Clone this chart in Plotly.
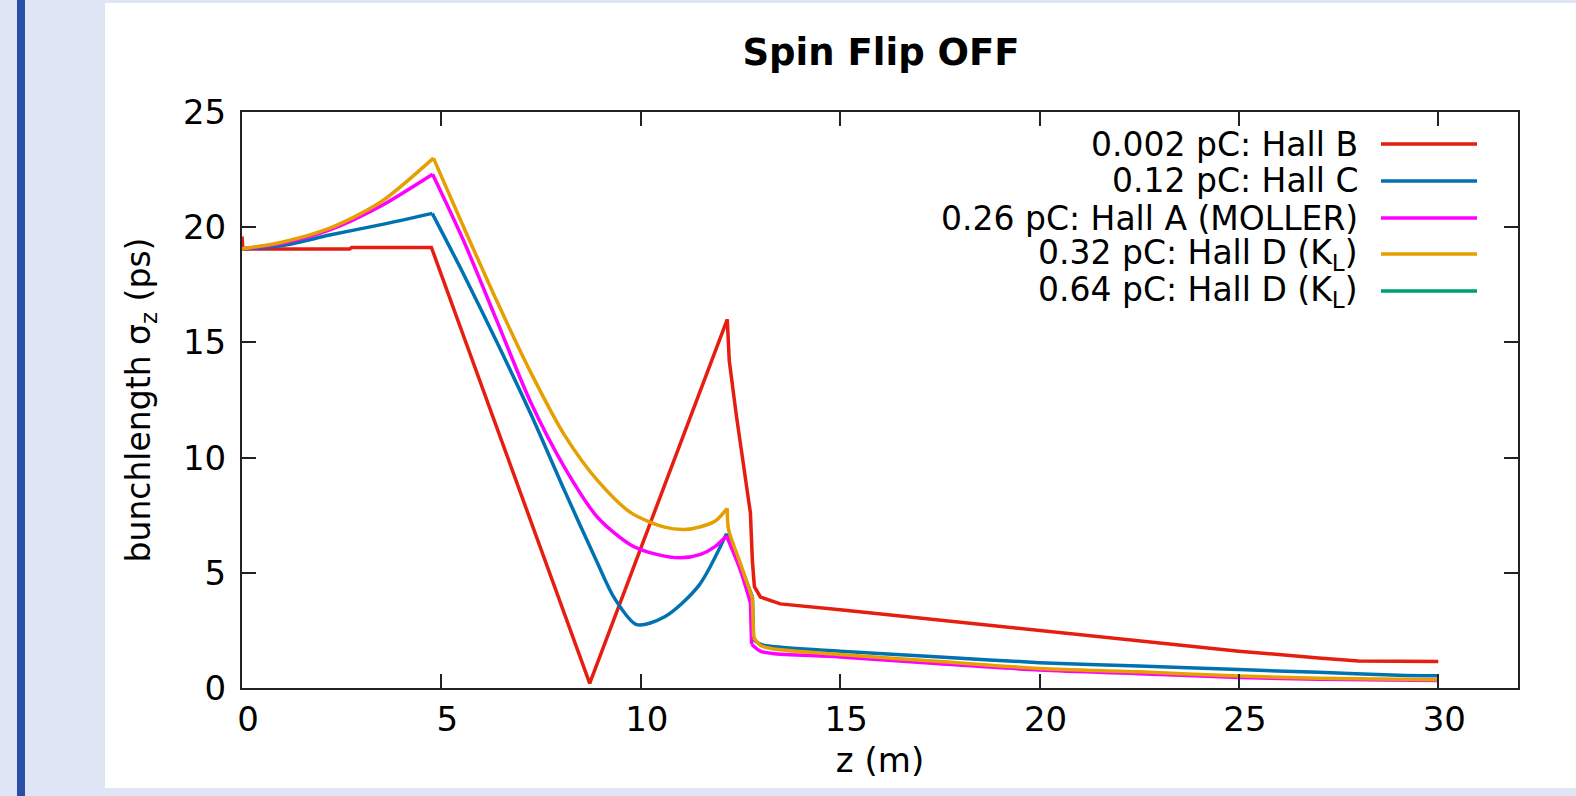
import plotly.graph_objects as go

# ---------------- data ----------------
series_names = [
    "0.002 pC: Hall B",
    "0.12 pC: Hall C",
    "0.26 pC: Hall A (MOLLER)",
    "0.32 pC: Hall D (K<sub>L</sub>)",
    "0.64 pC: Hall D (K<sub>L</sub>)",
]
series_colors = ["#e51e10", "#0072b2", "#ff00ff", "#e69f00", "#009e73"]

z_hallB = [0.0, 0.02, 2.7, 2.75, 4.75, 8.72, 12.17, 12.22, 12.4, 12.6, 12.75, 12.8, 12.85,
           13.0, 13.3, 13.5, 15.0, 17.5, 20.0, 22.5, 25.0, 27.0, 28.0, 30.0]
s_hallB = [19.6, 19.05, 19.05, 19.12, 19.12, 0.2, 16.0, 14.2, 11.8, 9.3, 7.6, 5.5, 4.4,
           3.95, 3.75, 3.65, 3.4, 2.95, 2.5, 2.05, 1.6, 1.3, 1.17, 1.15]

z_hallC = [0.0, 1.0, 2.2, 3.46, 4.77, 5.56, 6.4, 7.24, 8.08, 8.92, 9.34, 9.9, 10.6, 11.45,
           12.15, 12.5, 12.8, 12.83, 13.0, 13.3, 15.0, 17.5, 20.0, 22.5, 25.0, 27.0, 29.0, 30.0]
s_hallC = [19.06, 19.2, 19.66, 20.1, 20.6, 17.95, 14.98, 11.9, 8.6, 5.4, 3.9, 2.75, 3.09, 4.43,
           6.7, 5.3, 3.95, 2.1, 1.9, 1.8, 1.6, 1.35, 1.1, 0.95, 0.8, 0.68, 0.55, 0.53]

z_hallA = [0.0, 1.0, 2.2, 3.46, 4.78, 5.56, 6.4, 7.24, 8.08, 8.92, 9.76, 10.4, 11.0, 11.5,
           11.87, 12.15, 12.5, 12.75, 12.78, 13.0, 13.3, 15.0, 17.5, 20.0, 22.5, 25.0, 27.0, 30.0]
s_hallA = [19.06, 19.3, 19.88, 20.9, 22.3, 19.4, 15.9, 12.4, 9.6, 7.4, 6.2, 5.8, 5.65, 5.8,
           6.15, 6.6, 5.1, 3.7, 1.9, 1.6, 1.5, 1.35, 1.05, 0.78, 0.62, 0.46, 0.38, 0.33]

z_hallD32 = [0.0, 1.0, 2.2, 3.46, 4.8, 5.56, 6.4, 7.24, 8.08, 8.92, 9.76, 10.6, 11.1, 11.5,
             11.87, 12.17, 12.2, 12.5, 12.8, 12.83, 13.0, 13.3, 15.0, 17.5, 20.0, 22.5, 25.0,
             27.0, 30.0]
s_hallD32 = [19.06, 19.35, 19.96, 21.07, 23.0, 20.0, 16.76, 13.7, 11.0, 9.0, 7.6, 6.98,
             6.88, 7.0, 7.25, 7.8, 6.9, 5.4, 3.9, 2.2, 1.85, 1.7, 1.45, 1.15, 0.85, 0.7, 0.52,
             0.42, 0.36]

z_hallD64 = []   # listed in the key, no visible curve in the reference
s_hallD64 = []

x_ticks = [0, 5, 10, 15, 20, 25, 30]
y_ticks = [0, 5, 10, 15, 20, 25]

# indices where a curve has a sharp corner (segments between them are drawn smooth)
corner_idx = [
    None,                       # Hall B: drawn as straight segments
    [0, 4, 14, 16, 17, -1],
    [0, 4, 15, 17, 18, -1],
    [0, 4, 15, 18, 19, -1],
    None,
]

# ---------------- figure ----------------
W, H = 1576, 796
L, R, T, B = 242, 58, 112, 108
PW, PH = W - L - R, H - T - B
LINE_W = 3.5


def px(x):
    return (x - L) / PW


def py(y):
    return (H - B - y) / PH


fig = go.Figure()
all_z = [z_hallB, z_hallC, z_hallA, z_hallD32, z_hallD64]
all_s = [s_hallB, s_hallC, s_hallA, s_hallD32, s_hallD64]
for name, col, zz, ss, cidx in zip(series_names, series_colors, all_z, all_s, corner_idx):
    if cidx is None or len(zz) == 0:
        fig.add_trace(go.Scatter(x=zz, y=ss, mode="lines", name=name, legendgroup=name,
                                 line=dict(color=col, width=LINE_W), showlegend=False))
        continue
    idx = [i if i >= 0 else len(zz) - 1 for i in cidx]
    for a, b in zip(idx[:-1], idx[1:]):
        fig.add_trace(go.Scatter(x=zz[a:b + 1], y=ss[a:b + 1], mode="lines", name=name,
                                 legendgroup=name, showlegend=False,
                                 line=dict(color=col, width=LINE_W,
                                           shape="spline" if b - a > 1 else "linear",
                                           smoothing=0.8)))

frame = "#222222"
axis_common = dict(showline=True, linecolor=frame, linewidth=2, mirror="ticks",
                   ticks="inside", ticklen=14, tickwidth=2, tickcolor=frame,
                   showgrid=False, zeroline=False,
                   tickfont=dict(family="DejaVu Sans", size=34, color="black"))

fig.update_xaxes(range=[0, 32], tickvals=x_ticks, ticklabelshift=6, ticklabelstandoff=0,
                 title=dict(text="z (m)", font=dict(family="DejaVu Sans", size=34, color="black"),
                            standoff=10),
                 **axis_common)
fig.update_yaxes(range=[0, 25], tickvals=y_ticks, ticklabelstandoff=7,
                 title=dict(text="bunchlength σ<sub>z</sub> (ps)",
                            font=dict(family="DejaVu Sans", size=33, color="black"),
                            standoff=22),
                 **axis_common)

shapes = [
    # white panel behind the chart
    dict(type="rect", xref="paper", yref="paper", layer="below",
         x0=px(105), x1=px(1580), y0=py(788), y1=py(3),
         fillcolor="white", line=dict(width=0)),
    # blue bar at the left of the slide
    dict(type="rect", xref="paper", yref="paper", layer="below",
         x0=px(17), x1=px(25), y0=py(800), y1=py(-4),
         fillcolor="#2a4ea6", line=dict(width=0)),
]

annotations = []
row_y = [144, 181, 218, 254, 291]
for name, col, yy in zip(series_names, series_colors, row_y):
    annotations.append(dict(xref="paper", yref="paper", x=px(1360), y=py(yy),
                            xanchor="right", yanchor="middle", showarrow=False,
                            text=name,
                            font=dict(family="DejaVu Sans", size=33, color="black")))
    shapes.append(dict(type="line", xref="paper", yref="paper",
                       x0=px(1381), x1=px(1477), y0=py(yy), y1=py(yy),
                       line=dict(color=col, width=LINE_W)))

fig.update_layout(
    width=W, height=H,
    margin=dict(l=L, r=R, t=T, b=B),
    paper_bgcolor="#dfe5f4", plot_bgcolor="white",
    showlegend=False,
    title=dict(text="<b>Spin Flip OFF</b>", xref="paper", x=px(881), xanchor="center",
               yref="container", y=1 - 52 / H, yanchor="middle",
               font=dict(family="DejaVu Sans", size=37, color="black")),
    shapes=shapes, annotations=annotations,
)

fig.write_html("out.html",
               config={"displayModeBar": False},
               post_script="document.body.style.margin='0px';"
                           "document.body.style.backgroundColor='#dfe5f4';")
